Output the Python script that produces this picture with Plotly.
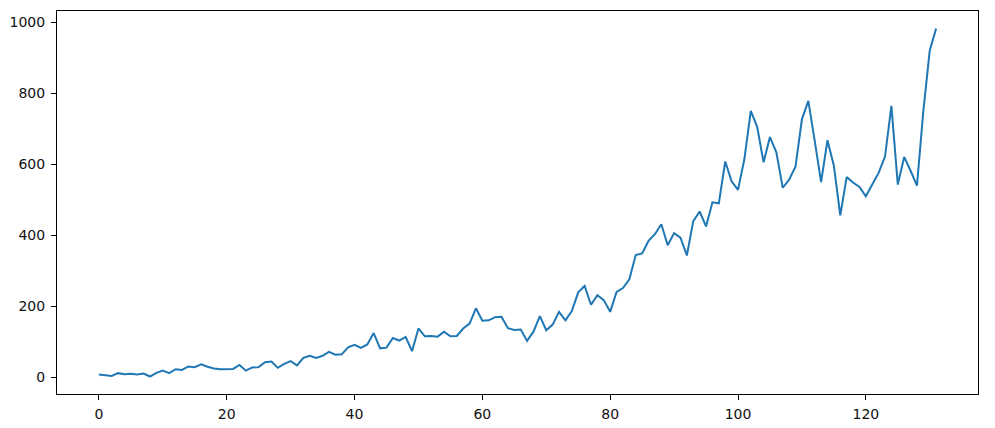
import plotly.graph_objects as go

x_index = list(range(132))
values = [
    7, 4.5, 3, 11, 8, 9, 7, 10, 1.5, 12,
    18, 11, 22, 20, 30, 28, 36, 29, 24, 22,
    22, 23, 34, 18, 27, 28, 42, 44, 26, 37,
    45, 33, 54, 60, 54, 60, 71, 63, 64, 84,
    91, 82, 92, 124, 81, 83, 110, 103, 113, 73,
    137, 115, 116, 114, 128, 115, 116, 137, 151, 194,
    159, 160, 169, 170, 138, 133, 134, 102, 128, 172,
    132, 148, 184, 160, 186, 239, 257, 204, 231, 217,
    184, 240, 251, 276, 344, 349, 384, 403, 431, 372,
    406, 393, 343, 440, 467, 425, 493, 490, 608, 552,
    528, 615, 751, 706, 606, 677, 634, 534, 557, 594,
    727, 779, 667, 550, 668, 596, 456, 564, 549, 536,
    510, 545, 576, 622, 765, 543, 621, 582, 540, 751,
    921, 983,
]
x_ticks = [0, 20, 40, 60, 80, 100, 120]
y_ticks = [0, 200, 400, 600, 800, 1000]

fig = go.Figure(
    go.Scatter(x=x_index, y=values, mode="lines",
               line=dict(color="#1f77b4", width=2))
)

axis_common = dict(
    showgrid=False, zeroline=False, showline=True, linecolor="black",
    linewidth=1, mirror=True, ticks="outside", ticklen=5, tickwidth=1,
    tickcolor="black", tickfont=dict(family="DejaVu Sans", size=14, color="#111"),
)
fig.update_xaxes(range=[-6.55, 137.55], tickvals=x_ticks, ticklabelstandoff=2,
                 **axis_common)
fig.update_yaxes(range=[-47.8, 1032.6], tickvals=y_ticks, ticklabelstandoff=3,
                 **axis_common)

fig.update_layout(
    width=987, height=420,
    margin=dict(l=47, r=17, t=2, b=34),
    plot_bgcolor="white", paper_bgcolor="white",
    showlegend=False,
)
fig.write_html("out.html")
